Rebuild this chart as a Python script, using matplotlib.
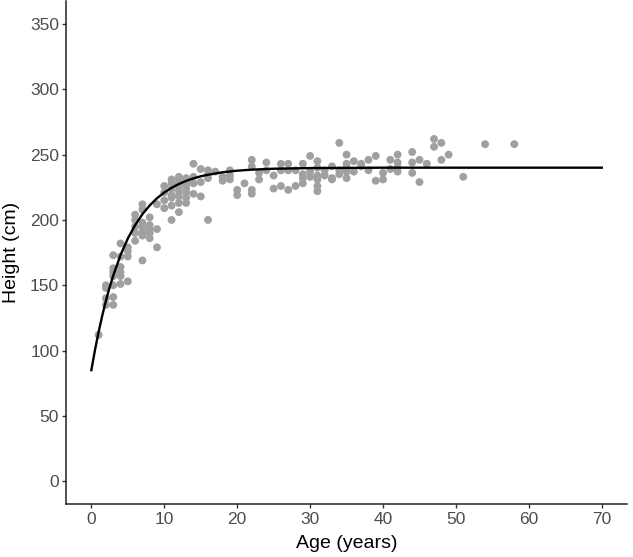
import matplotlib
matplotlib.use('Agg')
import matplotlib.pyplot as plt
import numpy as np

# observed points, grouped by age (years) -> heights (cm)
obs = {
    1: [112],
    2: [150, 148, 140, 135],
    3: [173, 163, 160, 157, 150, 141, 135],
    4: [182, 172, 164, 160, 157, 151],
    5: [179, 176, 172, 153],
    6: [204, 200, 195, 190, 184],
    7: [212, 208, 198, 195, 191, 188, 169],
    8: [202, 196, 193, 190, 186],
    9: [212, 193, 179],
    10: [226, 221, 215, 209],
    11: [231, 228, 224, 219, 217, 211, 200],
    12: [233, 231, 228, 226, 222, 218, 213, 206],
    13: [232, 229, 227, 224, 221, 217, 213],
    14: [243, 233, 228, 220],
    15: [239, 229, 218],
    16: [238, 235, 232, 200],
    17: [237],
    18: [233, 230],
    19: [238, 234, 231],
    20: [223, 219],
    21: [228],
    22: [246, 241, 223, 220],
    23: [236, 231],
    24: [244, 238],
    25: [234, 224],
    26: [243, 238, 226],
    27: [243, 238, 223],
    28: [238, 226],
    29: [243, 235, 232, 228],
    30: [249, 237, 233],
    31: [245, 240, 234, 231, 226, 222],
    32: [238, 234],
    33: [241, 232, 231],
    34: [259, 238, 235],
    35: [250, 243, 240, 237, 232],
    36: [245, 237],
    37: [243, 241],
    38: [246, 238],
    39: [249, 230],
    40: [236, 231],
    41: [246, 239],
    42: [250, 244, 240, 237],
    44: [252, 244, 236],
    45: [246, 229],
    46: [243],
    47: [262, 256],
    48: [259, 246],
    49: [250],
    51: [233],
    54: [258],
    58: [258],
}

# fitted growth curve
curve_age = [0, 0.5, 1, 1.5, 2, 2.5, 3, 4, 5, 6, 7, 8, 9, 10, 11, 12, 13, 14,
             15, 16, 18, 20, 22, 25, 30, 40, 70]
curve_height = [85, 100.5, 114.4, 126.9, 138.2, 148.3, 157.4, 173.1, 185.8,
                196.0, 204.4, 211.1, 216.6, 221.0, 224.6, 227.5, 229.9, 231.8,
                233.4, 234.6, 236.5, 237.7, 238.5, 239.2, 239.7, 240, 240]

ages = []
heights = []
for a in obs:
    for h in obs[a]:
        ages.append(a)
        heights.append(h)

plt.rcParams['font.family'] = ['Liberation Sans', 'DejaVu Sans']

fig, ax = plt.subplots(figsize=(6.33, 5.57), dpi=100)
fig.subplots_adjust(left=0.104, right=0.991, bottom=0.095, top=0.998)

ax.scatter(ages, heights, s=32, color='#a0a0a0', edgecolors='none', zorder=2)
ax.plot(curve_age, curve_height, color='black', lw=1.7, zorder=3)

ax.set_xlim(-3.5, 73.5)
ax.set_ylim(-17.5, 367.5)
ax.set_xticks(range(0, 80, 10))
ax.set_yticks(range(0, 400, 50))

for s in ['top', 'right']:
    ax.spines[s].set_visible(False)
for s in ['left', 'bottom']:
    ax.spines[s].set_linewidth(1.1)
    ax.spines[s].set_color('#222222')

ax.tick_params(axis='both', length=3.2, width=1.0, color='#333333',
               labelsize=12.5, labelcolor='#4d4d4d')
ax.tick_params(axis='x', pad=2.8)
ax.tick_params(axis='y', pad=1.6)

ax.set_xlabel('Age (years)', fontsize=14, color='black')
ax.set_ylabel('Height (cm)', fontsize=14, color='black')
ax.xaxis.set_label_coords(0.5, -0.062)
ax.yaxis.set_label_coords(-0.081, 0.5)

plt.savefig('out.png', dpi=100)
plt.close()
